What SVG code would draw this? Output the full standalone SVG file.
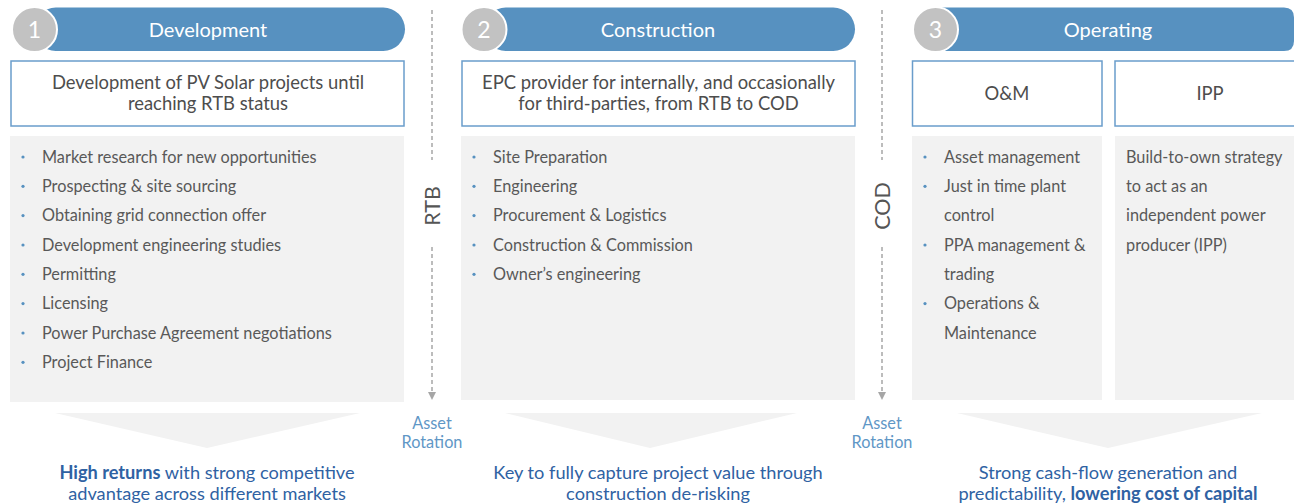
<svg xmlns="http://www.w3.org/2000/svg" width="1294" height="503" viewBox="0 0 1294 503">
<style>
  .bar { fill: #5791c0; }
  .num { fill: #c2c2c2; stroke: #ffffff; stroke-width: 2; }
  .numt { font-family: Lato, "Liberation Sans", sans-serif; font-size: 23px; fill: #ffffff; text-anchor: middle; }
  .title { font-family: Lato, "Liberation Sans", sans-serif; font-size: 20px; fill: #ffffff; text-anchor: middle; }
  .desc { fill: #ffffff; stroke: #6a9dcb; stroke-width: 1.5; }
  .desct { font-family: Lato, "Liberation Sans", sans-serif; font-size: 18.4px; fill: #4d4d4d; text-anchor: middle; }
  .panel { fill: #f2f2f2; }
  .item { font-family: Lato, "Liberation Sans", sans-serif; font-size: 16.3px; fill: #595959; }
  .dot { fill: #5791c0; }
  .chev { fill: #f2f2f2; }
  .bottom { font-family: Lato, "Liberation Sans", sans-serif; font-size: 18.2px; fill: #2f62a3; text-anchor: middle; }
  .bold { font-weight: bold; }
  .milestone { font-family: Lato, "Liberation Sans", sans-serif; font-size: 21.5px; fill: #555555; text-anchor: middle; }
  .rot { font-family: Lato, "Liberation Sans", sans-serif; font-size: 16.3px; fill: #5f97c6; text-anchor: middle; }
  .dash { stroke: #a6a6a6; stroke-width: 1.5; stroke-dasharray: 4 3; fill: none; }
</style>
<defs>
  <marker id="arr" viewBox="0 0 10 10" refX="5" refY="5" markerWidth="8" markerHeight="8" markerUnits="userSpaceOnUse" orient="auto">
    <path d="M0,0 L10,5 L0,10 Z" fill="#a6a6a6"/>
  </marker>
</defs>

<g id="col1">
  <rect class="bar" x="34" y="7.5" width="371" height="43.5" rx="21.75"/>
  <circle class="num" cx="34.5" cy="29.5" r="22.5"/>
  <text class="numt" x="34.5" y="37.5">1</text>
  <text class="title" x="208" y="36.5">Development</text>
  <rect class="desc" x="11" y="61" width="393" height="65"/>
  <text class="desct" x="208" y="89">Development of PV Solar projects until</text>
  <text class="desct" x="208" y="110">reaching RTB status</text>
  <rect class="panel" x="10" y="136" width="394" height="266"/>
  <g>
    <circle class="dot" cx="23" cy="157" r="1.6"/><text class="item" x="42" y="162.5">Market research for new opportunities</text>
    <circle class="dot" cx="23" cy="186.3" r="1.6"/><text class="item" x="42" y="191.8">Prospecting &amp; site sourcing</text>
    <circle class="dot" cx="23" cy="215.6" r="1.6"/><text class="item" x="42" y="221.1">Obtaining grid connection offer</text>
    <circle class="dot" cx="23" cy="245" r="1.6"/><text class="item" x="42" y="250.5">Development engineering studies</text>
    <circle class="dot" cx="23" cy="274.3" r="1.6"/><text class="item" x="42" y="279.8">Permitting</text>
    <circle class="dot" cx="23" cy="303.6" r="1.6"/><text class="item" x="42" y="309.1">Licensing</text>
    <circle class="dot" cx="23" cy="333" r="1.6"/><text class="item" x="42" y="338.5">Power Purchase Agreement negotiations</text>
    <circle class="dot" cx="23" cy="362.3" r="1.6"/><text class="item" x="42" y="367.8">Project Finance</text>
  </g>
  <path class="chev" d="M55,413 L360,413 L207,448 Z"/>
  <text class="bottom" x="207" y="479"><tspan class="bold">High returns</tspan> with strong competitive</text>
  <text class="bottom" x="207" y="500">advantage across different markets</text>
</g>

<g id="col2">
  <rect class="bar" x="484" y="7.5" width="371" height="43.5" rx="21.75"/>
  <circle class="num" cx="484" cy="29.5" r="22.5"/>
  <text class="numt" x="484" y="37.5">2</text>
  <text class="title" x="658" y="36.5">Construction</text>
  <rect class="desc" x="462" y="61" width="393" height="65"/>
  <text class="desct" x="658.5" y="89">EPC provider for internally, and occasionally</text>
  <text class="desct" x="658.5" y="110">for third-parties, from RTB to COD</text>
  <rect class="panel" x="461" y="136" width="394" height="264"/>
  <g>
    <circle class="dot" cx="474" cy="157" r="1.6"/><text class="item" x="493" y="162.5">Site Preparation</text>
    <circle class="dot" cx="474" cy="186.3" r="1.6"/><text class="item" x="493" y="191.8">Engineering</text>
    <circle class="dot" cx="474" cy="215.6" r="1.6"/><text class="item" x="493" y="221.1">Procurement &amp; Logistics</text>
    <circle class="dot" cx="474" cy="245" r="1.6"/><text class="item" x="493" y="250.5">Construction &amp; Commission</text>
    <circle class="dot" cx="474" cy="274.3" r="1.6"/><text class="item" x="493" y="279.8">Owner’s engineering</text>
  </g>
  <path class="chev" d="M505,413 L797,413 L650,448 Z"/>
  <text class="bottom" x="658" y="479">Key to fully capture project value through</text>
  <text class="bottom" x="658" y="500">construction de-risking</text>
</g>

<g id="col3">
  <path class="bar" d="M935,7.5 L1284,7.5 Q1294,7.5 1294,17.5 L1294,41 Q1294,51 1284,51 L935,51 Z"/>
  <circle class="num" cx="935.5" cy="29.5" r="22.5"/>
  <text class="numt" x="935.5" y="37.5">3</text>
  <text class="title" x="1108" y="36.5">Operating</text>
  <rect class="desc" x="912.5" y="61" width="189.5" height="65"/>
  <text class="desct" x="1007" y="100">O&amp;M</text>
  <rect class="desc" x="1115" y="61" width="185" height="65"/>
  <text class="desct" x="1210" y="100">IPP</text>
  <rect class="panel" x="912" y="136" width="190" height="264"/>
  <rect class="panel" x="1115" y="136" width="185" height="264"/>
  <g>
    <circle class="dot" cx="925" cy="157" r="1.6"/><text class="item" x="944" y="162.5">Asset management</text>
    <circle class="dot" cx="925" cy="186.3" r="1.6"/><text class="item" x="944" y="191.8">Just in time plant</text>
    <text class="item" x="944" y="221.1">control</text>
    <circle class="dot" cx="925" cy="245" r="1.6"/><text class="item" x="944" y="250.5">PPA management &amp;</text>
    <text class="item" x="944" y="279.8">trading</text>
    <circle class="dot" cx="925" cy="303.6" r="1.6"/><text class="item" x="944" y="309.1">Operations &amp;</text>
    <text class="item" x="944" y="338.5">Maintenance</text>
  </g>
  <g>
    <text class="item" x="1126" y="162.5">Build-to-own strategy</text>
    <text class="item" x="1126" y="191.8">to act as an</text>
    <text class="item" x="1126" y="221.1">independent power</text>
    <text class="item" x="1126" y="250.5">producer (IPP)</text>
  </g>
  <path class="chev" d="M957,413 L1262,413 L1108,448 Z"/>
  <text class="bottom" x="1108" y="479">Strong cash-flow generation and</text>
  <text class="bottom" x="1108" y="500">predictability, <tspan class="bold">lowering cost of capital</tspan></text>
</g>

<g id="connectors">
  <line class="dash" x1="432" y1="10" x2="432" y2="160"/>
  <line class="dash" x1="432" y1="247" x2="432" y2="396" marker-end="url(#arr)"/>
  <line class="dash" x1="882" y1="10" x2="882" y2="160"/>
  <line class="dash" x1="882" y1="247" x2="882" y2="396" marker-end="url(#arr)"/>
</g>

<g id="rtb">
  <text class="milestone" transform="translate(439.5,206) rotate(-90)" x="0" y="0">RTB</text>
  <text class="rot" x="432" y="429">Asset</text>
  <text class="rot" x="432" y="448">Rotation</text>
</g>
<g id="cod">
  <text class="milestone" transform="translate(889.5,206) rotate(-90)" x="0" y="0">COD</text>
  <text class="rot" x="882" y="429">Asset</text>
  <text class="rot" x="882" y="448">Rotation</text>
</g>
</svg>
